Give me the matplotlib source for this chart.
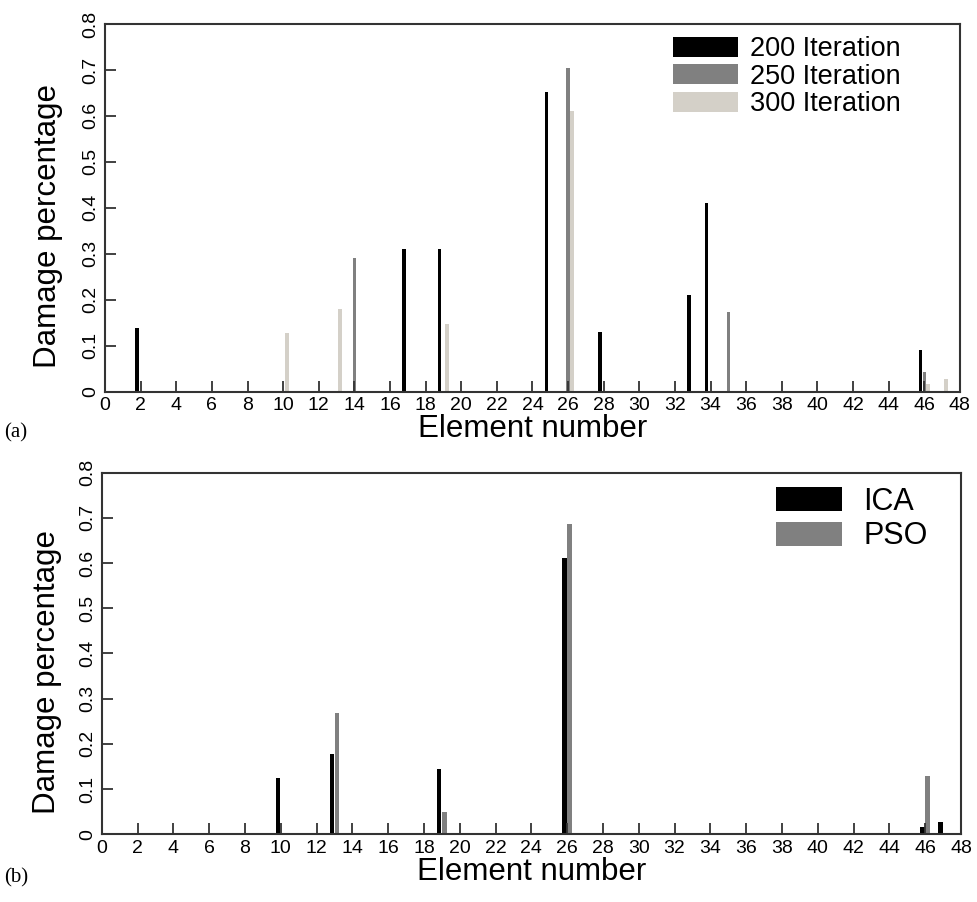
import matplotlib
matplotlib.use("Agg")
import matplotlib.pyplot as plt
import numpy as np

plt.rcParams['font.family'] = ['Liberation Sans', 'DejaVu Sans']

# Panel (a) data
elem_200 = [2, 17, 19, 25, 28, 33, 34, 46]
val_200 = [0.139, 0.31, 0.31, 0.651, 0.13, 0.21, 0.411, 0.091]
elem_250 = [14, 26, 35, 46]
val_250 = [0.292, 0.704, 0.173, 0.044]
elem_300 = [10, 13, 19, 26, 46, 47]
val_300 = [0.127, 0.18, 0.147, 0.611, 0.017, 0.028]

# Panel (b) data
elem_ica = [10, 13, 19, 26, 46, 47]
val_ica = [0.125, 0.178, 0.145, 0.611, 0.017, 0.028]
elem_pso = [13, 19, 26, 46]
val_pso = [0.269, 0.05, 0.687, 0.129]

labels_a = ['200 Iteration', '250 Iteration', '300 Iteration']
labels_b = ['ICA', 'PSO']
xticks = list(range(0, 49, 2))
yticks = [0, 0.1, 0.2, 0.3, 0.4, 0.5, 0.6, 0.7, 0.8]
yticklabels = ['0', '0.1', '0.2', '0.3', '0.4', '0.5', '0.6', '0.7', '0.8']

c_black = '#000000'
c_gray = '#808080'
c_light = '#d4d0c8'

fig = plt.figure(figsize=(9.77, 9.02), dpi=100)
ax1 = fig.add_axes([0.1075, 0.5657, 0.875, 0.4077])
ax2 = fig.add_axes([0.1041, 0.0751, 0.8795, 0.4008])

w = 0.2
ax1.bar(np.array(elem_200) - 0.22, val_200, width=w, color=c_black, label=labels_a[0])
ax1.bar(np.array(elem_250), val_250, width=w, color=c_gray, label=labels_a[1])
ax1.bar(np.array(elem_300) + 0.2, val_300, width=0.24, color=c_light, label=labels_a[2])

wb = 0.25
ax2.bar(np.array(elem_ica) - 0.15, val_ica, width=wb, color=c_black, label=labels_b[0])
ax2.bar(np.array(elem_pso) + 0.14, val_pso, width=wb, color=c_gray, label=labels_b[1])

for ax in (ax1, ax2):
    ax.set_xlim(0, 48)
    ax.set_ylim(0, 0.8)
    ax.set_xticks(xticks)
    ax.set_xticklabels([str(t) for t in xticks], fontsize=14)
    ax.set_yticks(yticks)
    ax.set_yticklabels(yticklabels, fontsize=14, rotation=90, va='center')
    ax.tick_params(direction='in', length=8, width=1.3, color='#333333', pad=4)
    for s in ax.spines.values():
        s.set_linewidth(1.5)
        s.set_color('#333333')
    ax.set_xlabel('Element number', fontsize=22.5, labelpad=0)
    ax.set_ylabel('Damage percentage', fontsize=22.5)

ax1.yaxis.set_label_coords(-0.049, 0.45)
ax2.yaxis.set_label_coords(-0.046, 0.45)

ax1.legend(loc='upper right', bbox_to_anchor=(0.931, 0.967), frameon=False,
           fontsize=19.5, handlelength=2.4, handleheight=0.75,
           handletextpad=0.45, labelspacing=0.06, borderpad=0, borderaxespad=0)
ax2.legend(loc='upper right', bbox_to_anchor=(0.961, 0.961), frameon=False,
           fontsize=22, handlelength=2.15, handleheight=0.85,
           handletextpad=0.7, labelspacing=0.15, borderpad=0, borderaxespad=0)

fig.text(0.004, 0.515, '(a)', fontsize=15, family='Liberation Serif')
fig.text(0.004, 0.022, '(b)', fontsize=15, family='Liberation Serif')

fig.savefig('out.png', dpi=100)
